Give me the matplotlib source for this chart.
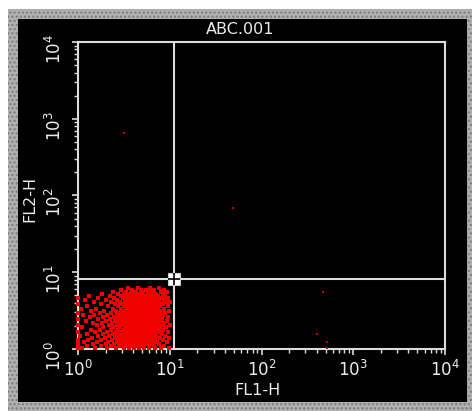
import matplotlib
matplotlib.use("Agg")
import matplotlib.pyplot as plt
from matplotlib.patches import Rectangle
from matplotlib.ticker import LogLocator, NullFormatter
import numpy as np

# channel values (0..1023) on a 4-decade log scale
fl2_rows = [205, 198, 191, 184, 177, 170, 163, 156, 149, 142, 135, 128, 121, 114, 107,
            100, 93, 86, 79, 72, 65, 58, 51, 44, 37, 30, 23, 16, 9, 2]
fl1_rows = [
    [139, 168, 201, 226],
    [121, 152, 176, 190, 213, 239],
    [97, 134, 149, 163, 181, 197, 208, 231, 248],
    [66, 112, 128, 143, 156, 170, 179, 194, 203, 219, 236],
    [30, 88, 119, 137, 150, 158, 166, 177, 188, 199, 211, 222, 244],
    [0, 55, 101, 126, 144, 153, 161, 172, 180, 191, 200, 209, 220, 232, 251],
    [19, 77, 109, 131, 141, 149, 160, 168, 177, 185, 196, 204, 214, 227, 240],
    [44, 93, 117, 137, 147, 155, 163, 171, 181, 189, 198, 207, 218, 225, 246, 257],
    [0, 63, 102, 124, 133, 143, 152, 160, 169, 178, 186, 194, 203, 212, 221, 236],
    [26, 84, 112, 129, 139, 148, 157, 166, 174, 183, 191, 200, 209, 217, 229, 250],
    [8, 51, 97, 119, 135, 144, 153, 161, 170, 179, 188, 196, 204, 213, 224, 241],
    [37, 72, 106, 125, 139, 150, 158, 166, 175, 184, 192, 201, 209, 219, 232, 255],
    [0, 60, 91, 115, 131, 143, 154, 162, 171, 180, 188, 197, 206, 215, 227, 244],
    [15, 46, 82, 109, 122, 136, 147, 157, 166, 175, 184, 193, 201, 210, 222, 237],
    [33, 69, 100, 118, 130, 141, 151, 160, 169, 178, 187, 196, 205, 214, 230, 252],
    [0, 56, 88, 112, 126, 137, 148, 156, 165, 174, 182, 191, 199, 208, 219, 235],
    [22, 78, 104, 121, 133, 145, 153, 162, 171, 179, 188, 197, 206, 216, 228, 247],
    [41, 66, 95, 115, 129, 140, 150, 159, 168, 176, 185, 194, 203, 212, 224, 240],
    [0, 52, 86, 108, 124, 136, 146, 155, 164, 173, 182, 191, 200, 210, 221, 233, 256],
    [12, 71, 99, 118, 132, 143, 152, 161, 170, 179, 188, 197, 206, 217, 229, 245],
    [35, 61, 92, 112, 127, 139, 149, 158, 167, 176, 185, 194, 204, 214, 226, 238],
    [0, 48, 81, 105, 121, 134, 145, 154, 163, 172, 181, 190, 200, 211, 223, 250],
    [25, 69, 97, 116, 130, 142, 151, 160, 170, 179, 188, 198, 208, 219, 234],
    [6, 57, 87, 110, 125, 138, 148, 157, 166, 176, 186, 196, 206, 218, 242],
    [39, 75, 102, 120, 135, 146, 155, 165, 174, 184, 194, 205, 215, 229, 254],
    [0, 29, 64, 94, 114, 130, 143, 153, 163, 173, 183, 193, 204, 216, 236],
    [17, 53, 85, 108, 126, 140, 151, 161, 172, 182, 193, 205, 221, 247],
    [0, 42, 78, 101, 121, 137, 149, 160, 171, 182, 194, 208, 226],
    [24, 63, 92, 115, 133, 147, 159, 171, 184, 197, 213, 239],
    [0, 10, 47, 80, 106, 127, 143, 157, 170, 183, 198, 215, 232, 253],
]

# scattered events outside the main population
fl1_outliers = [128, 432, 683, 666, 694, 694]
fl2_outliers = [721, 470, 190, 50, 24, 3]

# quadrant gate
gate_fl1 = 11.1
gate_fl2 = 8.2

title = "ABC.001"
x_label = "FL1-H"
y_label = "FL2-H"


def ch_to_value(ch):
    # 1024 channels over 4 decades
    return 10 ** (np.asarray(ch, dtype=float) / 256.0)


fl1_ch = []
fl2_ch = []
for y, xs in zip(fl2_rows, fl1_rows):
    for x in xs:
        fl1_ch.append(x)
        fl2_ch.append(y)

W, H = 472, 411
fig = plt.figure(figsize=(W / 100, H / 100), dpi=100)
fig.patch.set_facecolor("white")

# checkered frame and black panel
fig.patches.append(Rectangle((8 / W, 0), 1 - 8 / W, 1 - 9 / H, transform=fig.transFigure,
                             facecolor="#b0b0b0", edgecolor="#7a7a7a", hatch="....",
                             linewidth=0, zorder=-2))
fig.patches.append(Rectangle((18 / W, 1 - 402 / H), 449 / W, 383 / H, transform=fig.transFigure,
                             facecolor="black", edgecolor="none", zorder=-1))

ax = fig.add_axes([78 / W, 1 - 349 / H, 367 / W, 307 / H])
ax.set_facecolor("black")
ax.set_xscale("log")
ax.set_yscale("log")
ax.set_xlim(1, 1e4)
ax.set_ylim(1, 1e4)

fg = "#dcdcdc"
ax.plot(ch_to_value(fl1_ch), ch_to_value(fl2_ch), linestyle="none", marker="s",
        markersize=2.3, markeredgewidth=0, color="#f00000", clip_on=False, zorder=3)
ax.plot(ch_to_value(fl1_outliers), ch_to_value(fl2_outliers), linestyle="none", marker="s",
        markersize=1.5, markeredgewidth=0, color="#c00000", zorder=3)

ax.axvline(gate_fl1, color=fg, linewidth=1.5, zorder=4)
ax.axhline(gate_fl2, color=fg, linewidth=1.5, zorder=4)
ax.plot(gate_fl1, gate_fl2, marker="s", markersize=8.5, markerfacecolor="white",
        markeredgecolor="#c8c8c8", markeredgewidth=0.8, zorder=5)
ax.plot(gate_fl1, gate_fl2, marker="+", markersize=8.5, color="black",
        markeredgewidth=1.2, zorder=6)

for s in ax.spines.values():
    s.set_color(fg)
    s.set_linewidth(1.5)

for axis in (ax.xaxis, ax.yaxis):
    axis.set_major_locator(LogLocator(base=10, numticks=10))
    axis.set_minor_locator(LogLocator(base=10, subs=range(2, 10), numticks=20))
    axis.set_minor_formatter(NullFormatter())

ax.tick_params(which="both", direction="out", color=fg, labelcolor="#ececec",
               top=False, right=False)
ax.tick_params(which="major", length=4.5, width=1.2, labelsize=12)
ax.tick_params(which="minor", length=3, width=1.0)
ax.tick_params(axis="x", pad=3.5)
ax.tick_params(axis="y", pad=5, labelrotation=90)

ax.set_xlabel(x_label, color="#ececec", fontsize=11.5)
ax.set_ylabel(y_label, color="#ececec", fontsize=11.5)
ax.xaxis.set_label_coords(0.49, -0.11)
ax.yaxis.set_label_coords(-0.112, 0.49)

fig.text(240 / W, 1 - 29 / H, title, ha="center", va="center", color="#ececec", fontsize=11.5)

fig.savefig("out.png", dpi=100, facecolor=fig.get_facecolor())
